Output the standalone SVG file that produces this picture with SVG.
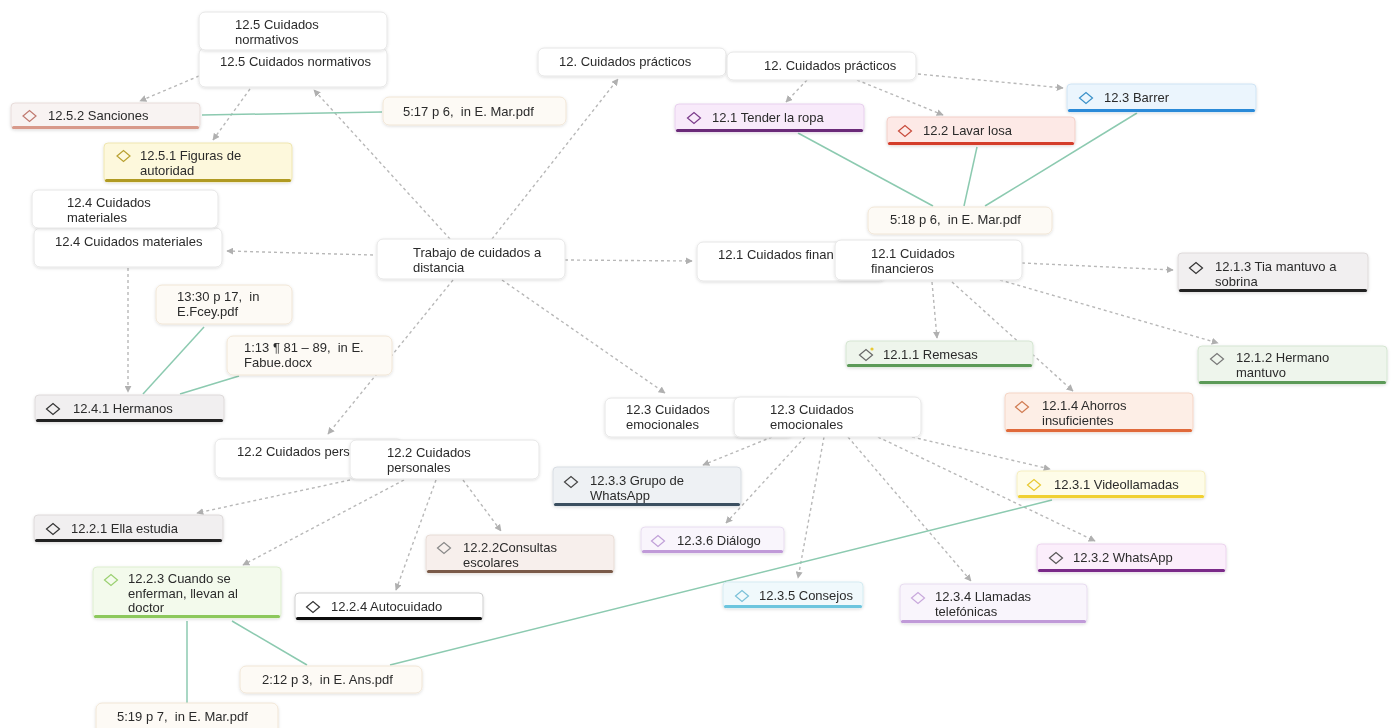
<svg xmlns="http://www.w3.org/2000/svg" width="1396" height="728" viewBox="0 0 1396 728">
<defs>
<style>
.t{font-family:"Liberation Sans",Arial,sans-serif;font-size:13px;fill:#2b2b2b;white-space:pre}
.box{fill:#fff;stroke:#e6e6e6;stroke-width:1}
.cite{fill:#fdfaf5;stroke:#f1e6d6;stroke-width:1}
.dash{fill:none;stroke:#b8b8b8;stroke-width:1.4;stroke-dasharray:3 3;marker-end:url(#ah)}
.link{fill:none;stroke:#8ccab0;stroke-width:1.5}
.dm{fill:none;stroke-width:1.2}
</style>
<marker id="ah" viewBox="0 0 10 10" refX="9" refY="5" markerWidth="7" markerHeight="7" markerUnits="userSpaceOnUse" orient="auto">
<path d="M0,0 L10,5 L0,10 Z" fill="#b0b0b0"/>
</marker>
<filter id="sh" x="-10%" y="-20%" width="120%" height="150%">
<feDropShadow dx="0" dy="1" stdDeviation="1.5" flood-color="#000" flood-opacity="0.13"/>
</filter>
</defs>
<rect width="1396" height="728" fill="#fff"/>
<g id="connectors">
<path class="dash" d="M199,76 L140,101"/>
<path class="dash" d="M250,89 L213,140"/>
<path class="dash" d="M450,239 L314,90"/>
<path class="dash" d="M492,239 L618,79"/>
<path class="dash" d="M807,80 L786,102"/>
<path class="dash" d="M857,80 L943,115"/>
<path class="dash" d="M918,74 L1063,88"/>
<path class="dash" d="M565,260 L692,261"/>
<path class="dash" d="M373,255 L227,251"/>
<path class="dash" d="M502,280 L665,393"/>
<path class="dash" d="M453,280 L328,434"/>
<path class="dash" d="M128,268 L128,392"/>
<path class="dash" d="M932,282 L937,338"/>
<path class="dash" d="M952,282 L1073,391"/>
<path class="dash" d="M1022,263 L1173,270"/>
<path class="dash" d="M1000,280 L1218,343"/>
<path class="dash" d="M772,437 L703,465"/>
<path class="dash" d="M805,437 L726,523"/>
<path class="dash" d="M824,437 L798,578"/>
<path class="dash" d="M848,437 L971,581"/>
<path class="dash" d="M878,437 L1095,541"/>
<path class="dash" d="M912,437 L1050,469"/>
<path class="dash" d="M350,480 L197,513"/>
<path class="dash" d="M404,480 L243,565"/>
<path class="dash" d="M436,480 L396,590"/>
<path class="dash" d="M463,480 L501,531"/>
<path class="link" d="M202,115 L382,112"/>
<path class="link" d="M798,133 L933,206"/>
<path class="link" d="M977,147 L964,206"/>
<path class="link" d="M1137,113 L985,206"/>
<path class="link" d="M204,327 L143,394"/>
<path class="link" d="M239,376 L180,394"/>
<path class="link" d="M187,621 L187,703"/>
<path class="link" d="M232,621 L307,665"/>
<path class="link" d="M390,665 L1052,500"/>
</g>

<g id="n-cuid-normativos-2" filter="url(#sh)"><rect class="box" x="199" y="48" width="188" height="39" rx="6"/><text class="t" x="220" y="66">12.5 Cuidados normativos</text></g>
<g id="n-cuid-normativos-1" filter="url(#sh)"><rect class="box" x="199" y="12" width="188" height="38" rx="6"/><text class="t" x="235" y="29">12.5 Cuidados<tspan x="235" dy="14.6">normativos</tspan></text></g>

<g id="n-sanciones" filter="url(#sh)"><rect x="11" y="103" width="189" height="26" rx="4" fill="#f8f3f2" stroke="#e8dcda"/><rect x="12" y="126" width="187" height="3" rx="1.5" fill="#d8998a"/><path class="dm" stroke="#c07a70" d="M23,116 L29.5,110.5 L36,116 L29.5,121.5 Z"/><text class="t" x="48" y="120">12.5.2 Sanciones</text></g>

<g id="n-figuras" filter="url(#sh)"><rect x="104" y="143" width="188" height="39" rx="4" fill="#fdf8dc" stroke="#efe6b0"/><rect x="105" y="179" width="186" height="3" rx="1.5" fill="#b09a20"/><path class="dm" stroke="#b8a030" d="M117,156 L123.5,150.5 L130,156 L123.5,161.5 Z"/><text class="t" x="140" y="160">12.5.1 Figuras de<tspan x="140" dy="14.6">autoridad</tspan></text></g>

<g id="n-cuid-materiales-2" filter="url(#sh)"><rect class="box" x="34" y="228" width="188" height="39" rx="6"/><text class="t" x="55" y="246">12.4 Cuidados materiales</text></g>
<g id="n-cuid-materiales-1" filter="url(#sh)"><rect class="box" x="32" y="190" width="186" height="38" rx="6"/><text class="t" x="67" y="207">12.4 Cuidados<tspan x="67" dy="14.6">materiales</tspan></text></g>

<g id="n-517" filter="url(#sh)"><rect class="cite" x="383" y="97" width="183" height="28" rx="6"/><text class="t" x="403" y="116" xml:space="preserve">5:17 p 6,  in E. Mar.pdf</text></g>

<g id="n-practicos-1" filter="url(#sh)"><rect class="box" x="538" y="48" width="188" height="28" rx="6"/><text class="t" x="559" y="66">12. Cuidados prácticos</text></g>
<g id="n-practicos-2" filter="url(#sh)"><rect class="box" x="727" y="52" width="189" height="28" rx="6"/><text class="t" x="764" y="70">12. Cuidados prácticos</text></g>

<g id="n-tender" filter="url(#sh)"><rect x="675" y="104" width="189" height="28" rx="4" fill="#f8eafa" stroke="#e8d0ee"/><rect x="676" y="129" width="187" height="3" rx="1.5" fill="#6a2a78"/><path class="dm" stroke="#7a3a8a" d="M687.5,118 L694,112.5 L700.5,118 L694,123.5 Z"/><text class="t" x="712" y="122">12.1 Tender la ropa</text></g>

<g id="n-lavar" filter="url(#sh)"><rect x="887" y="117" width="188" height="28" rx="4" fill="#fde9e6" stroke="#f2cfc8"/><rect x="888" y="142" width="186" height="3" rx="1.5" fill="#d43c2c"/><path class="dm" stroke="#c84a3a" d="M898.5,131 L905,125.5 L911.5,131 L905,136.5 Z"/><text class="t" x="923" y="135">12.2 Lavar losa</text></g>

<g id="n-barrer" filter="url(#sh)"><rect x="1067" y="84" width="189" height="28" rx="4" fill="#ebf5fd" stroke="#cfe4f4"/><rect x="1068" y="109" width="187" height="3" rx="1.5" fill="#2a8ad8"/><path class="dm" stroke="#3a90c8" d="M1079.5,98 L1086,92.5 L1092.5,98 L1086,103.5 Z"/><text class="t" x="1104" y="102">12.3 Barrer</text></g>

<g id="n-518" filter="url(#sh)"><rect class="cite" x="868" y="207" width="184" height="27" rx="6"/><text class="t" x="890" y="224" xml:space="preserve">5:18 p 6,  in E. Mar.pdf</text></g>

<g id="n-central" filter="url(#sh)"><rect class="box" x="377" y="239" width="188" height="40" rx="6"/><text class="t" x="413" y="257">Trabajo de cuidados a<tspan x="413" dy="14.6">distancia</tspan></text></g>

<g id="n-financieros-1" filter="url(#sh)"><rect class="box" x="697" y="242" width="188" height="39" rx="6"/><text class="t" x="718" y="259">12.1 Cuidados finan</text></g>
<g id="n-financieros-2" filter="url(#sh)"><rect class="box" x="835" y="240" width="187" height="40" rx="6"/><text class="t" x="871" y="258">12.1 Cuidados<tspan x="871" dy="14.6">financieros</tspan></text></g>

<g id="n-tia" filter="url(#sh)"><rect x="1178" y="253" width="190" height="39" rx="4" fill="#f1eff0" stroke="#dedada"/><rect x="1179" y="289" width="188" height="3" rx="1.5" fill="#222"/><path class="dm" stroke="#333" d="M1189.5,268 L1196,262.5 L1202.5,268 L1196,273.5 Z"/><text class="t" x="1215" y="271">12.1.3 Tia mantuvo a<tspan x="1215" dy="14.6">sobrina</tspan></text></g>

<g id="n-hermano" filter="url(#sh)"><rect x="1198" y="346" width="189" height="38" rx="4" fill="#eef5ec" stroke="#d5e6d2"/><rect x="1199" y="381" width="187" height="3" rx="1.5" fill="#5c9a58"/><path class="dm" stroke="#777" d="M1210.5,359 L1217,353.5 L1223.5,359 L1217,364.5 Z"/><text class="t" x="1236" y="362">12.1.2 Hermano<tspan x="1236" dy="14.6">mantuvo</tspan></text></g>

<g id="n-remesas" filter="url(#sh)"><rect x="846" y="341" width="187" height="26" rx="4" fill="#eef5ec" stroke="#d5e6d2"/><rect x="847" y="364" width="185" height="3" rx="1.5" fill="#5c9a58"/><path class="dm" stroke="#666" d="M859.5,355 L866,349.5 L872.5,355 L866,360.5 Z"/><circle cx="872" cy="349" r="1.6" fill="#e8c830"/><text class="t" x="883" y="359">12.1.1 Remesas</text></g>

<g id="n-ahorros" filter="url(#sh)"><rect x="1005" y="393" width="188" height="39" rx="4" fill="#fdeee6" stroke="#f5d5c5"/><rect x="1006" y="429" width="186" height="3" rx="1.5" fill="#e06a3a"/><path class="dm" stroke="#d07a50" d="M1015.5,407 L1022,401.5 L1028.5,407 L1022,412.5 Z"/><text class="t" x="1042" y="410">12.1.4 Ahorros<tspan x="1042" dy="14.6">insuficientes</tspan></text></g>

<g id="n-emocionales-1" filter="url(#sh)"><rect class="box" x="605" y="398" width="188" height="39" rx="6"/><text class="t" x="626" y="414">12.3 Cuidados<tspan x="626" dy="14.6">emocionales</tspan></text></g>
<g id="n-emocionales-2" filter="url(#sh)"><rect class="box" x="734" y="397" width="187" height="40" rx="6"/><text class="t" x="770" y="414">12.3 Cuidados<tspan x="770" dy="14.6">emocionales</tspan></text></g>

<g id="n-grupo" filter="url(#sh)"><rect x="553" y="467" width="188" height="39" rx="4" fill="#eef1f4" stroke="#d8dde3"/><rect x="554" y="503" width="186" height="3" rx="1.5" fill="#3a5060"/><path class="dm" stroke="#444" d="M564.5,482 L571,476.5 L577.5,482 L571,487.5 Z"/><text class="t" x="590" y="485">12.3.3 Grupo de<tspan x="590" dy="14.6">WhatsApp</tspan></text></g>

<g id="n-dialogo" filter="url(#sh)"><rect x="641" y="527" width="143" height="26" rx="4" fill="#f9f5fc" stroke="#e8dcf0"/><rect x="642" y="550" width="141" height="3" rx="1.5" fill="#c09ad8"/><path class="dm" stroke="#c0a0d8" d="M651.5,541 L658,535.5 L664.5,541 L658,546.5 Z"/><text class="t" x="677" y="545">12.3.6 Diálogo</text></g>

<g id="n-consejos" filter="url(#sh)"><rect x="723" y="582" width="140" height="26" rx="4" fill="#f0f9fc" stroke="#d5ecf2"/><rect x="724" y="605" width="138" height="3" rx="1.5" fill="#6cc5de"/><path class="dm" stroke="#7ac0d8" d="M735.5,596 L742,590.5 L748.5,596 L742,601.5 Z"/><text class="t" x="759" y="600">12.3.5 Consejos</text></g>

<g id="n-llamadas" filter="url(#sh)"><rect x="900" y="584" width="187" height="39" rx="4" fill="#f9f5fc" stroke="#e8dcf0"/><rect x="901" y="620" width="185" height="3" rx="1.5" fill="#c09ad8"/><path class="dm" stroke="#c8a8dc" d="M911.5,598 L918,592.5 L924.5,598 L918,603.5 Z"/><text class="t" x="935" y="601">12.3.4 Llamadas<tspan x="935" dy="14.6">telefónicas</tspan></text></g>

<g id="n-videollamadas" filter="url(#sh)"><rect x="1017" y="471" width="188" height="27" rx="4" fill="#fefce8" stroke="#f5eec0"/><rect x="1018" y="495" width="186" height="3" rx="1.5" fill="#f0d030"/><path class="dm" stroke="#e8c830" d="M1027.5,485 L1034,479.5 L1040.5,485 L1034,490.5 Z"/><text class="t" x="1054" y="489">12.3.1 Videollamadas</text></g>

<g id="n-whatsapp" filter="url(#sh)"><rect x="1037" y="544" width="189" height="28" rx="4" fill="#fbeefb" stroke="#ecd4ee"/><rect x="1038" y="569" width="187" height="3" rx="1.5" fill="#7a2a88"/><path class="dm" stroke="#555" d="M1049.5,558 L1056,552.5 L1062.5,558 L1056,563.5 Z"/><text class="t" x="1073" y="562">12.3.2 WhatsApp</text></g>

<g id="n-personales-1" filter="url(#sh)"><rect class="box" x="215" y="439" width="188" height="39" rx="6"/><text class="t" x="237" y="456">12.2 Cuidados pers</text></g>
<g id="n-personales-2" filter="url(#sh)"><rect class="box" x="350" y="440" width="189" height="39" rx="6"/><text class="t" x="387" y="457">12.2 Cuidados<tspan x="387" dy="14.6">personales</tspan></text></g>

<g id="n-ella" filter="url(#sh)"><rect x="34" y="515" width="189" height="27" rx="4" fill="#f1eff0" stroke="#dedada"/><rect x="35" y="539" width="187" height="3" rx="1.5" fill="#222"/><path class="dm" stroke="#333" d="M46.5,529 L53,523.5 L59.5,529 L53,534.5 Z"/><text class="t" x="71" y="533">12.2.1 Ella estudia</text></g>

<g id="n-consultas" filter="url(#sh)"><rect x="426" y="535" width="188" height="38" rx="4" fill="#f7efec" stroke="#e8dcd6"/><rect x="427" y="570" width="186" height="3" rx="1.5" fill="#7a5a48"/><path class="dm" stroke="#888" d="M437.5,548 L444,542.5 L450.5,548 L444,553.5 Z"/><text class="t" x="463" y="552">12.2.2Consultas<tspan x="463" dy="14.6">escolares</tspan></text></g>

<g id="n-cuando" filter="url(#sh)"><rect x="93" y="567" width="188" height="51" rx="4" fill="#f3faec" stroke="#ddeecf"/><rect x="94" y="615" width="186" height="3" rx="1.5" fill="#8cc85c"/><path class="dm" stroke="#9ad070" d="M104.5,580 L111,574.5 L117.5,580 L111,585.5 Z"/><text class="t" x="128" y="583">12.2.3 Cuando se<tspan x="128" dy="14.6">enferman, llevan al</tspan><tspan x="128" dy="14.6">doctor</tspan></text></g>

<g id="n-autocuidado" filter="url(#sh)"><rect x="295" y="593" width="188" height="27" rx="4" fill="#fff" stroke="#cfcfcf"/><rect x="296" y="617" width="186" height="3" rx="1.5" fill="#111"/><path class="dm" stroke="#333" d="M306.5,607 L313,601.5 L319.5,607 L313,612.5 Z"/><text class="t" x="331" y="611">12.2.4 Autocuidado</text></g>

<g id="n-hermanos" filter="url(#sh)"><rect x="35" y="395" width="189" height="27" rx="4" fill="#f1eff0" stroke="#dedada"/><rect x="36" y="419" width="187" height="3" rx="1.5" fill="#222"/><path class="dm" stroke="#333" d="M46.5,409 L53,403.5 L59.5,409 L53,414.5 Z"/><text class="t" x="73" y="413">12.4.1 Hermanos</text></g>

<g id="n-1330" filter="url(#sh)"><rect class="cite" x="156" y="285" width="136" height="39" rx="6"/><text class="t" x="177" y="301" xml:space="preserve">13:30 p 17,  in<tspan x="177" dy="14.6">E.Fcey.pdf</tspan></text></g>

<g id="n-113" filter="url(#sh)"><rect class="cite" x="227" y="336" width="165" height="39" rx="6"/><text class="t" x="244" y="352" xml:space="preserve">1:13 ¶ 81 – 89,  in E.<tspan x="244" dy="14.6">Fabue.docx</tspan></text></g>

<g id="n-212" filter="url(#sh)"><rect class="cite" x="240" y="666" width="182" height="27" rx="6"/><text class="t" x="262" y="684" xml:space="preserve">2:12 p 3,  in E. Ans.pdf</text></g>

<g id="n-519" filter="url(#sh)"><rect class="cite" x="96" y="703" width="182" height="32" rx="6"/><text class="t" x="117" y="721" xml:space="preserve">5:19 p 7,  in E. Mar.pdf</text></g>
</svg>
